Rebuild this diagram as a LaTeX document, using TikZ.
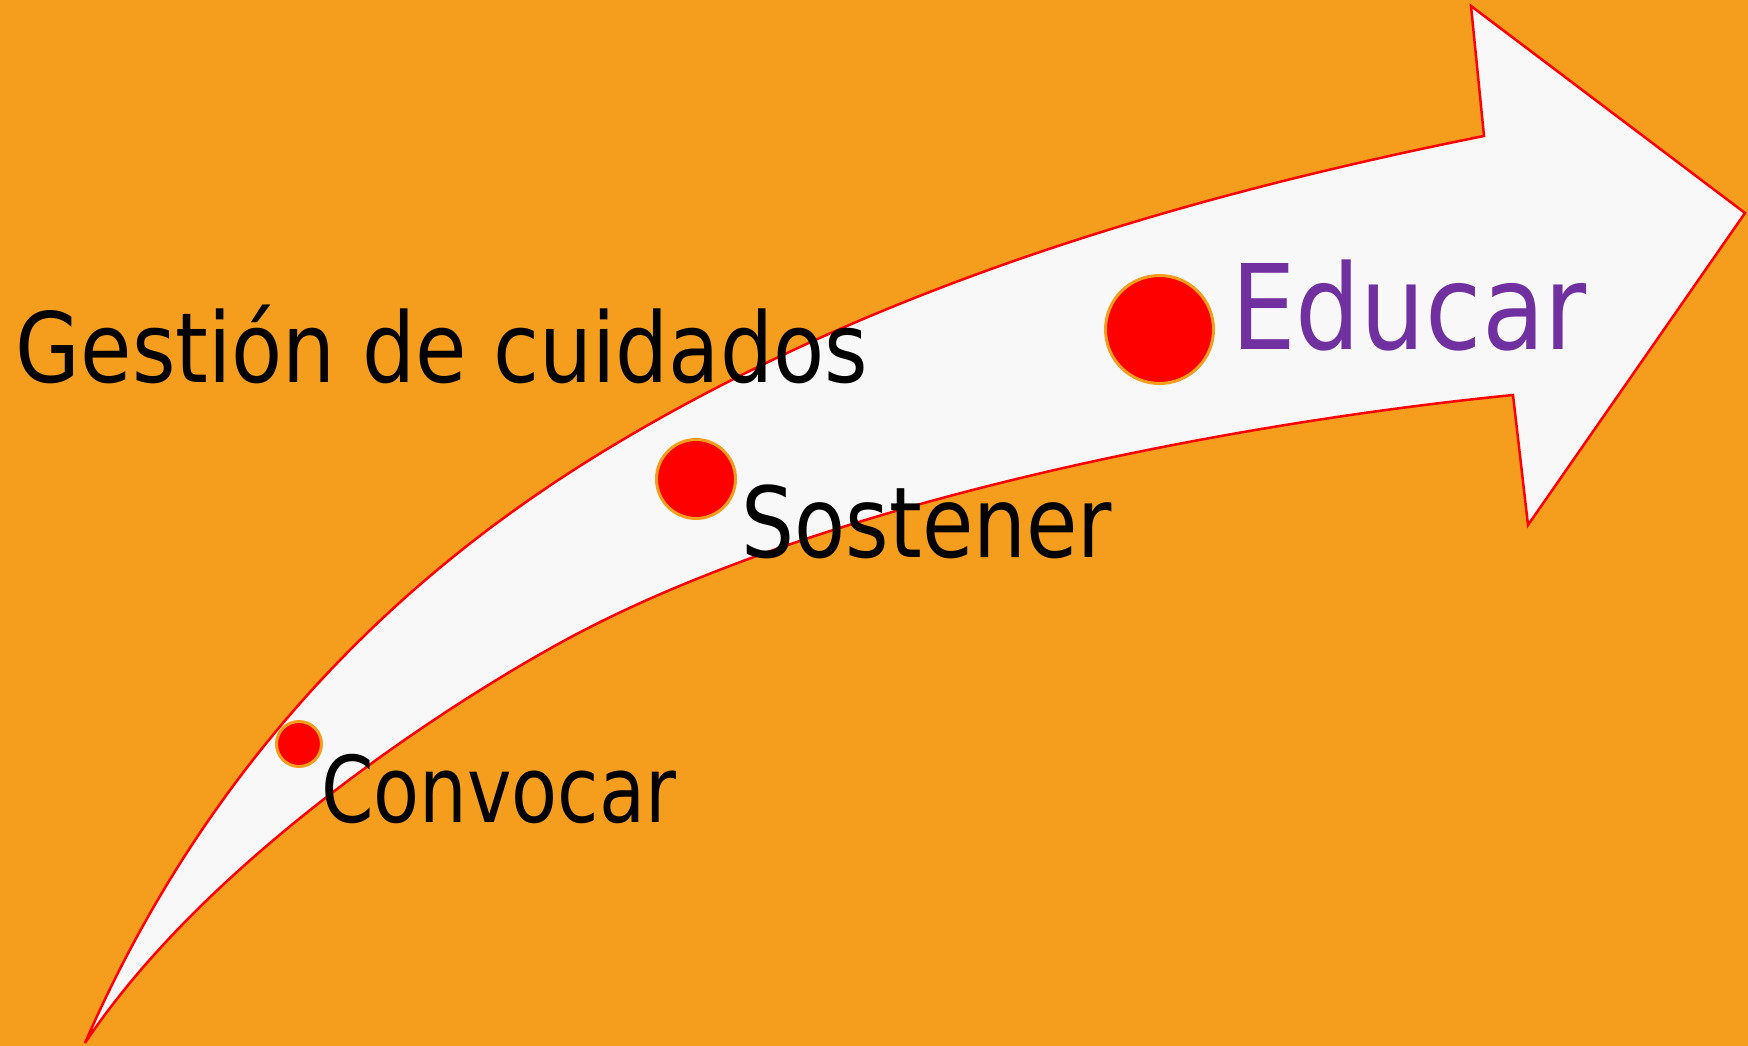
\documentclass[tikz,border=0pt]{standalone}
\usepackage{fontspec}
\usepackage{graphicx}
\setmainfont{DejaVu Sans}
\definecolor{bgorange}{HTML}{F59E1E}
\definecolor{arrowfill}{HTML}{F8F8F8}
\definecolor{edgered}{HTML}{FF0000}
\definecolor{txtpurple}{HTML}{7030A0}
\begin{document}
\begin{tikzpicture}[x=1pt,y=-1pt,
  lbl/.style={anchor=base west, inner sep=0pt, outer sep=0pt},
  dot/.style={circle, fill=edgered, draw=bgorange, line width=3pt, inner sep=0pt}]
\useasboundingbox (0,0) rectangle (1748,1046);
\fill[bgorange] (0,0) rectangle (1748,1046);
\draw[edgered, fill=arrowfill, line width=2.5pt, line join=miter]
 (85,1043) .. controls (250,665) and (523,494) .. (673,411)
 .. controls (923,273.5) and (1204,192) .. (1484,136)
 -- (1471,6) -- (1745,213) -- (1528,525) -- (1513,395)
 .. controls (1213,425) and (810,505.5) .. (560,643)
 .. controls (440,709) and (205,863) .. (85,1043) -- cycle;
\node[dot, minimum size=108pt] (educarDot) at (1159.5,329.5) {};
\node[dot, minimum size=79pt] (sostenerDot) at (696,479) {};
\node[dot, minimum size=45pt] (convocarDot) at (299,744) {};
\node[lbl] (gestion) at (16,382) {\fontsize{97}{100}\selectfont\scalebox{0.862}[1]{Gestión de cuidados}};
\node[lbl, text=txtpurple] (educar) at (1231,349) {\fontsize{118}{120}\selectfont\scalebox{0.868}[1]{Educar}};
\node[lbl] (sostener) at (741.5,557) {\fontsize{98}{100}\selectfont\scalebox{0.853}[1]{Sostener}};
\node[lbl] (convocar) at (321,822) {\fontsize{92}{96}\selectfont\scalebox{0.818}[1]{Convocar}};
\end{tikzpicture}
\end{document}
